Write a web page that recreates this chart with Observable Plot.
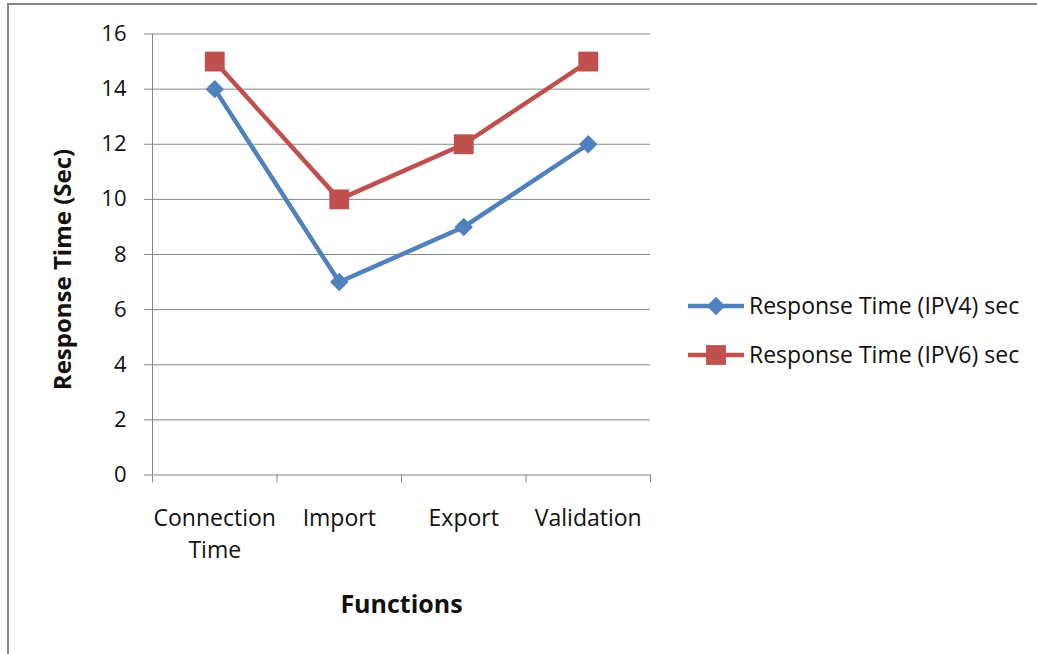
<!DOCTYPE html>
<html>
<head>
<meta charset="utf-8">
<script src="https://cdn.jsdelivr.net/npm/d3@7"></script>
<script src="https://cdn.jsdelivr.net/npm/@observablehq/plot@0.6"></script>
<style>
  html, body { margin: 0; padding: 0; background: #fff; }
  #wrap { position: relative; width: 1037px; height: 654px; overflow: hidden; font-family: "Open Sans", sans-serif; }
  #frame { position: absolute; left: 7px; top: 3px; width: 1100px; height: 700px;
           border-top: 2px solid #878787; border-left: 2px solid #878787; pointer-events: none; }
  #chart { position: absolute; left: 0; top: 0; }
</style>
</head>
<body>
<div id="wrap">
  <div id="chart"></div>
  <div id="frame"></div>
</div>
<script>
// Response times per function, in seconds
const functions = ["Connection\nTime", "Import", "Export", "Validation"];
const ipv4 = [14, 7, 9, 12];
const ipv6 = [15, 10, 12, 15];
const seriesNames = ["Response Time (IPV4) sec", "Response Time (IPV6) sec"];
const seriesColors = ["#4F81BD", "#C0504D"];
const yTicks = [0, 2, 4, 6, 8, 10, 12, 14, 16];
const xBounds = [0, 1, 2, 3, 4];

// Categories sit at the middle of unit-wide slots on a linear x scale
const rows = (vals, s) => vals.map((v, i) => ({pos: i + 0.5, value: v, series: s}));
const d4 = rows(ipv4, seriesNames[0]);
const d6 = rows(ipv6, seriesNames[1]);

const grid = "#868686";
const ink = "#111";
const rDiamond = 8.3;
const rSquare = 11.2;

const chart = Plot.plot({
  width: 1037,
  height: 654,
  marginLeft: 152,
  marginRight: 387,
  marginTop: 33.5,
  marginBottom: 179.5,
  style: {fontFamily: "Open Sans, sans-serif", background: "transparent"},
  x: {domain: [0, 4], axis: null},
  y: {domain: [0, 16], axis: null},
  marks: [
    Plot.gridY(yTicks, {stroke: grid, strokeOpacity: 1, strokeWidth: 1}),
    Plot.axisY(yTicks, {tickSize: 8, tickPadding: 18, stroke: grid, fill: ink, fontSize: 22, label: null}),
    Plot.ruleX([0], {stroke: grid, strokeWidth: 1}),
    Plot.axisX(xBounds, {tickSize: 8, tickFormat: () => "", stroke: grid, label: null}),
    Plot.text(functions, {
      x: (d, i) => i + 0.5, y: () => 0, text: d => d,
      lineAnchor: "top", dy: 28, lineHeight: 1.39, fontSize: 23, fill: ink
    }),
    Plot.line(d4, {x: "pos", y: "value", stroke: seriesColors[0], strokeWidth: 4.5}),
    Plot.line(d6, {x: "pos", y: "value", stroke: seriesColors[1], strokeWidth: 4.5}),
    Plot.dot(d4, {x: "pos", y: "value", symbol: "diamond2", r: rDiamond, fill: seriesColors[0], stroke: "none"}),
    Plot.dot(d6, {x: "pos", y: "value", symbol: "square", r: rSquare, fill: seriesColors[1], stroke: "none"}),
    Plot.text(["Response Time (Sec)"], {
      frameAnchor: "left", textAnchor: "middle", rotate: -90, dx: -89, dy: 15,
      fontSize: 24, fontWeight: "bold", fill: ink
    }),
    Plot.text(["Functions"], {
      frameAnchor: "bottom", textAnchor: "middle", dy: 138, fontSize: 25, fontWeight: "bold", fill: ink
    })
  ]
});
document.getElementById("chart").append(chart);

// Legend: line swatch with its marker, followed by the series name
const svg = d3.select(chart);
const legend = svg.append("g").attr("transform", "translate(688,306)");
seriesNames.forEach((name, i) => {
  const g = legend.append("g").attr("transform", `translate(0,${i * 49})`);
  g.append("line").attr("x1", 0).attr("x2", 56).attr("y1", 0).attr("y2", 0)
    .attr("stroke", seriesColors[i]).attr("stroke-width", 4.5);
  const sym = i === 0 ? d3.symbol(d3.symbolDiamond2, Math.PI * rDiamond * rDiamond)
                      : d3.symbol(d3.symbolSquare, Math.PI * rSquare * rSquare);
  g.append("path").attr("d", sym()).attr("transform", "translate(28,0)").attr("fill", seriesColors[i]);
  g.append("text").attr("x", 61).attr("y", 0).attr("dy", "0.35em")
    .attr("text-anchor", "start")
    .attr("font-size", 23).attr("fill", ink).text(name);
});
</script>
</body>
</html>
